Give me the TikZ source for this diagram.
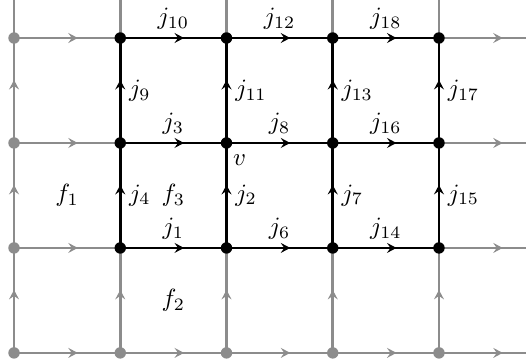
\documentclass[tikz,border=0pt]{standalone}
\usetikzlibrary{arrows.meta,decorations.markings,calc}
\definecolor{edgegray}{RGB}{140,140,140}
\begin{document}
\begin{tikzpicture}[x=1.5cm,y=1.482cm,
  edge/.style={line width=1pt},
  gedge/.style={edge,draw=edgegray},
  bedge/.style={edge,draw=black},
  midarrow/.style={postaction={decorate},decoration={markings,mark=at position 0.6 with {\arrow{Stealth[length=3.8pt,width=4pt,inset=1.4pt]}}}},
  gdot/.style={circle,fill=edgegray,inner sep=0pt,minimum size=4.6pt},
  bdot/.style={circle,fill=black,inner sep=0pt,minimum size=4.6pt},
  hlab/.style={above},
  vlab/.style={right}]
\clip (-0.132,-0.105) rectangle (4.819,3.362);
\foreach \c in {0,...,5} {\foreach \r in {0,...,3} {\coordinate (p-\c-\r) at (\c,\r);}}
\foreach \c in {0,...,4} {\coordinate (t-\c) at (\c,3.6);}
% gray edges
\foreach \a/\b in {0/1,1/2,2/3,3/4,4/5} {\draw[gedge,midarrow] (p-\a-0) -- (p-\b-0);}
\foreach \r in {1,2,3} {
  \draw[gedge,midarrow] (p-0-\r) -- (p-1-\r);
  \draw[gedge,midarrow] (p-4-\r) -- (p-5-\r);
}
\foreach \a/\b in {0/1,1/2,2/3} {\draw[gedge,midarrow] (p-0-\a) -- (p-0-\b);}
\foreach \c in {1,2,3,4} {\draw[gedge,midarrow] (p-\c-0) -- (p-\c-1);}
\foreach \c in {0,1,2,3,4} {\draw[gedge] (p-\c-3) -- (t-\c);}
% black edges
\foreach \r in {1,2,3} {
  \foreach \a/\b in {1/2,2/3,3/4} {\draw[bedge,midarrow] (p-\a-\r) -- (p-\b-\r);}
}
\foreach \c in {1,2,3,4} {
  \foreach \a/\b in {1/2,2/3} {\draw[bedge,midarrow] (p-\c-\a) -- (p-\c-\b);}
}
% dots
\foreach \r in {0,1,2,3} {\node[gdot] (d-0-\r) at (p-0-\r) {};}
\foreach \c in {1,2,3,4} {\node[gdot] (d-\c-0) at (p-\c-0) {};}
\foreach \c in {1,2,3,4} {\foreach \r in {1,2,3} {\node[bdot] (d-\c-\r) at (p-\c-\r) {};}}
% horizontal labels
\foreach \c/\r/\t in {1/3/10,2/3/12,3/3/18,1/2/3,2/2/8,3/2/16,1/1/1,2/1/6,3/1/14}
  {\node[hlab] (lh-\c-\r) at ($(p-\c-\r)+(0.5,0)$) {$j_{\t}$};}
% vertical labels
\foreach \c/\r/\t in {1/2/9,2/2/11,3/2/13,4/2/17,1/1/4,2/1/2,3/1/7,4/1/15}
  {\node[vlab] (lv-\c-\r) at ($(p-\c-\r)+(0,0.5)$) {$j_{\t}$};}
\node[anchor=north west,inner sep=0pt] (v) at ($(p-2-2)+(2.5pt,-4.5pt)$) {$v$};
\node (f1) at (0.5,1.5) {$f_1$};
\node (f3) at (1.5,1.5) {$f_3$};
\node (f2) at (1.5,0.5) {$f_2$};
\end{tikzpicture}
\end{document}
